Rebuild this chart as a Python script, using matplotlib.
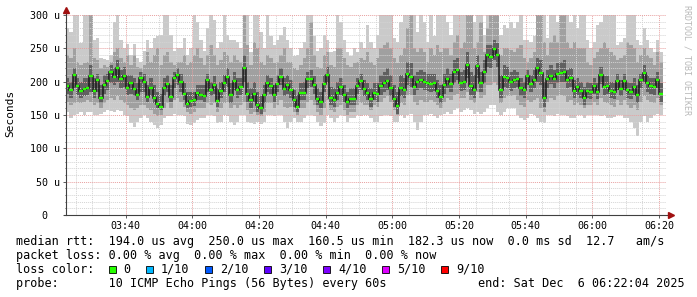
import datetime as dt
import numpy as np
import matplotlib
matplotlib.use("Agg")
import matplotlib.pyplot as plt
import matplotlib.dates as mdates
from matplotlib.ticker import MultipleLocator, FixedLocator, FixedFormatter
from matplotlib.patches import Rectangle

# ---- data (microseconds, one value per minute) ----
median = [
    193, 187.5, 210, 193, 186, 189.5, 190, 209, 186, 202, 175.5, 195, 201, 214.5, 207.5,
    220, 204.5, 208, 190, 197.5, 189.5, 180.5, 205, 200, 177.5, 190.5, 175.5, 166.5, 162.5, 190.5,
    197, 176.5, 205.5, 210.5, 200, 181.5, 166.5, 171.5, 172.5, 182.5, 180.5, 178, 202, 187, 195.5,
    171, 186.5, 197.5, 207.5, 179.5, 201, 188, 191.5, 220, 181.5, 172, 181, 164.5, 160, 179.5,
    197.5, 193.5, 180.5, 196.5, 207, 189, 194.5, 188, 172, 162.5, 182.5, 182.5, 203.5, 204, 194.5,
    173.5, 169, 196, 210.5, 175.5, 173, 182.5, 192, 180.5, 169, 174.5, 174.5, 193.5, 200.5, 188.5,
    183, 173.5, 183.5, 181, 193, 197.5, 201, 190, 173.5, 163.5, 190.5, 187, 211, 207.5, 191.5,
    200, 202, 200, 198.5, 197, 198, 186.5, 177.5, 195.5, 203.5, 196.5, 214, 217, 198.5, 199.5,
    225, 193, 187.5, 223, 197.5, 214, 240.5, 237.5, 249, 240, 187, 207.5, 205.5, 199, 202,
    204.5, 190.5, 187, 208.5, 196, 202.5, 220, 212.5, 175, 204, 209, 203.5, 212, 213, 214.5,
    202.5, 205, 186, 191.5, 185.5, 175, 186, 185, 193, 184.5, 210, 192.5, 193.5, 186, 185,
    201.5, 189.5, 201.5, 187, 185, 192.5, 179.5, 202.5, 212.5, 198.5, 194, 192, 202.5, 181.5,
]

# outer smoke (slowest / fastest ping)
smoke_hi1 = [
    280, 275, 300, 300, 258, 300, 300, 300, 262, 265, 236, 234, 232, 240, 290,
    300, 262, 250, 256, 240, 256, 236, 230, 246, 262, 250, 266, 268, 270, 300,
    300, 270, 246, 250, 250, 266, 240, 250, 300, 290, 262, 246, 280, 300, 292,
    250, 260, 300, 270, 262, 262, 260, 250, 300, 300, 245, 300, 300, 275, 250,
    300, 268, 255, 262, 270, 282, 262, 250, 238, 240, 250, 260, 300, 300, 268,
    246, 250, 270, 262, 245, 246, 300, 290, 262, 245, 238, 250, 245, 260, 250,
    285, 260, 250, 270, 300, 300, 300, 300, 265, 260, 290, 300, 300, 300, 300,
    275, 300, 290, 260, 300, 268, 300, 300, 300, 290, 270, 300, 300, 300, 300,
    300, 300, 290, 300, 300, 270, 300, 300, 300, 300, 270, 285, 280, 290, 280,
    290, 300, 262, 262, 260, 268, 300, 300, 300, 265, 300, 300, 290, 300, 300,
    300, 290, 300, 280, 300, 300, 262, 250, 260, 285, 290, 300, 300, 300, 300,
    255, 260, 265, 300, 300, 300, 262, 255, 280, 262, 250, 245, 262, 245,
]
smoke_lo1 = [
    155, 145, 150, 152, 155, 150, 155, 155, 150, 150, 152, 155, 157, 156, 155,
    158, 156, 150, 148, 138, 132, 140, 145, 150, 145, 140, 135, 130, 135, 145,
    148, 148, 152, 150, 150, 148, 137, 135, 138, 143, 145, 145, 150, 150, 148,
    138, 140, 150, 148, 140, 135, 140, 150, 150, 140, 138, 136, 140, 137, 140,
    150, 150, 148, 150, 150, 140, 130, 140, 145, 140, 140, 145, 150, 150, 148,
    140, 133, 138, 150, 145, 140, 145, 150, 148, 140, 145, 145, 150, 148, 150,
    150, 145, 140, 140, 148, 150, 150, 148, 140, 140, 150, 145, 150, 152, 140,
    128, 140, 150, 150, 152, 148, 145, 150, 152, 155, 152, 158, 160, 155, 158,
    160, 158, 152, 155, 152, 155, 160, 165, 165, 155, 150, 155, 160, 160, 160,
    150, 145, 142, 145, 152, 150, 145, 140, 138, 150, 150, 148, 152, 150, 150,
    148, 145, 145, 150, 150, 145, 150, 150, 150, 150, 148, 150, 145, 145, 147,
    150, 150, 145, 145, 140, 130, 118, 140, 148, 140, 145, 150, 152, 150,
]
# middle smoke
smoke_hi2 = [
    240, 235, 250, 230, 225, 228, 230, 300, 235, 232, 220, 225, 222, 230, 245,
    250, 235, 230, 240, 225, 240, 222, 220, 225, 245, 230, 240, 250, 225, 240,
    245, 230, 225, 230, 230, 240, 225, 230, 240, 250, 235, 225, 240, 255, 240,
    225, 232, 245, 240, 230, 240, 232, 230, 300, 255, 225, 260, 250, 230, 225,
    240, 235, 228, 230, 240, 250, 230, 230, 220, 218, 225, 235, 250, 290, 240,
    222, 220, 240, 245, 225, 222, 250, 250, 235, 225, 222, 228, 230, 235, 232,
    245, 230, 225, 235, 250, 255, 260, 250, 235, 228, 240, 250, 280, 300, 250,
    245, 250, 245, 230, 250, 240, 255, 245, 250, 250, 240, 260, 270, 250, 260,
    300, 300, 250, 260, 290, 245, 280, 300, 300, 300, 240, 250, 250, 248, 245,
    250, 255, 235, 230, 235, 245, 300, 300, 260, 240, 260, 270, 260, 300, 300,
    260, 250, 260, 250, 250, 250, 230, 225, 235, 245, 250, 260, 250, 245, 240,
    232, 235, 240, 260, 255, 250, 230, 240, 250, 240, 235, 225, 245, 230,
]
smoke_lo2 = [
    170, 165, 168, 170, 168, 170, 172, 170, 165, 168, 160, 168, 172, 175, 172,
    178, 172, 168, 165, 160, 158, 160, 165, 165, 160, 158, 152, 148, 150, 160,
    168, 160, 172, 175, 170, 162, 155, 152, 155, 160, 160, 160, 168, 165, 168,
    155, 160, 168, 170, 160, 165, 160, 165, 170, 158, 152, 155, 150, 148, 155,
    168, 168, 160, 165, 172, 162, 160, 162, 155, 150, 160, 160, 170, 172, 165,
    155, 150, 160, 172, 158, 155, 162, 165, 158, 150, 155, 155, 165, 168, 165,
    165, 158, 165, 162, 170, 175, 178, 170, 158, 150, 168, 165, 180, 180, 170,
    165, 172, 170, 170, 172, 170, 165, 160, 170, 175, 172, 180, 182, 175, 175,
    185, 172, 168, 185, 175, 180, 195, 195, 200, 195, 168, 175, 178, 178, 180,
    172, 165, 162, 172, 170, 172, 175, 160, 155, 170, 175, 172, 178, 180, 178,
    170, 172, 165, 168, 165, 160, 165, 165, 170, 165, 175, 170, 168, 165, 162,
    172, 165, 172, 165, 160, 165, 158, 170, 178, 172, 170, 168, 175, 165,
]
# inner smoke (around the median)
smoke_hi3 = [
    205, 200, 220, 205, 200, 205, 205, 225, 205, 212, 195, 210, 212, 225, 220,
    232, 218, 222, 210, 210, 205, 198, 215, 212, 195, 205, 195, 185, 182, 205,
    210, 195, 215, 220, 212, 198, 185, 185, 185, 195, 195, 195, 212, 200, 208,
    190, 200, 210, 220, 198, 215, 205, 205, 240, 200, 190, 200, 185, 178, 195,
    210, 205, 195, 210, 220, 205, 210, 202, 188, 180, 198, 200, 215, 218, 208,
    190, 185, 210, 222, 192, 190, 200, 205, 195, 185, 190, 190, 205, 212, 202,
    198, 190, 198, 198, 210, 215, 220, 210, 195, 185, 210, 205, 230, 228, 210,
    215, 218, 215, 212, 212, 212, 202, 195, 212, 220, 212, 232, 236, 215, 218,
    245, 215, 210, 240, 215, 232, 255, 255, 262, 258, 210, 225, 222, 215, 218,
    215, 205, 200, 218, 210, 218, 235, 232, 200, 218, 225, 218, 228, 230, 232,
    218, 220, 202, 205, 200, 192, 200, 198, 205, 198, 222, 208, 208, 200, 198,
    212, 202, 212, 200, 198, 205, 195, 212, 225, 210, 206, 205, 215, 198,
]
smoke_lo3 = [
    182, 176, 190, 180, 175, 178, 180, 185, 176, 185, 168, 182, 188, 198, 195,
    200, 190, 192, 180, 182, 178, 172, 185, 185, 170, 178, 168, 160, 158, 178,
    185, 170, 190, 195, 185, 172, 160, 162, 164, 172, 172, 170, 185, 178, 182,
    162, 175, 185, 192, 168, 188, 176, 180, 200, 170, 160, 170, 155, 152, 168,
    185, 182, 170, 185, 195, 178, 182, 176, 162, 155, 172, 172, 190, 192, 182,
    165, 160, 185, 198, 165, 162, 172, 180, 170, 160, 165, 165, 182, 188, 178,
    172, 162, 172, 170, 180, 185, 188, 178, 162, 152, 178, 175, 195, 192, 180,
    188, 190, 188, 186, 185, 186, 175, 168, 182, 190, 184, 198, 202, 186, 188,
    205, 180, 176, 205, 185, 198, 222, 220, 232, 222, 175, 192, 190, 186, 190,
    192, 178, 176, 195, 184, 190, 200, 195, 162, 190, 196, 190, 198, 200, 200,
    190, 192, 175, 180, 175, 165, 175, 174, 182, 174, 196, 180, 182, 175, 174,
    188, 178, 188, 175, 174, 180, 168, 190, 200, 185, 182, 180, 190, 170,
]

y_ticks = [0, 50, 100, 150, 200, 250, 300]
y_tick_labels = ["0  ", "50 u", "100 u", "150 u", "200 u", "250 u", "300 u"]

loss_labels = ["0", "1/10", "2/10", "3/10", "4/10", "5/10", "9/10"]
loss_colors = ["#26ff00", "#00b8ff", "#0059ff", "#5e00ff", "#7e00ff", "#dd00ff", "#ff0000"]

legend_rtt = "median rtt:  194.0 us avg  250.0 us max  160.5 us min  182.3 us now  0.0 ms sd  12.7   am/s"
legend_loss = "packet loss: 0.00 % avg  0.00 % max  0.00 % min  0.00 % now"
legend_probe = "probe:       10 ICMP Echo Pings (56 Bytes) every 60s"
end_txt = "end: Sat Dec  6 06:22:04 2025"

end_time = dt.datetime(2025, 12, 6, 6, 22, 4)
start_time = end_time - dt.timedelta(hours=3)

# ---- figure ----
W, H = 697, 297
plt.rcParams['font.family'] = ['DejaVu Sans Mono']
fig = plt.figure(figsize=(W / 100, H / 100), dpi=100)
fig.patch.set_facecolor("white")
ax = fig.add_axes([66 / W, (H - 215) / H, 600 / W, 200 / H])

t0 = mdates.date2num(start_time)
edges = t0 + np.arange(len(median) + 1) / 1440.0

ax.stairs(smoke_hi1, edges, baseline=smoke_lo1, fill=True, color="#cacaca", lw=0, zorder=1)
ax.stairs(smoke_hi2, edges, baseline=smoke_lo2, fill=True, color="#a0a0a0", lw=0, zorder=1.1)
ax.stairs(smoke_hi3, edges, baseline=smoke_lo3, fill=True, color="#606060", lw=0, zorder=1.2)

# median: dark step line with loss-coloured flats
ax.stairs(median, edges, baseline=None, color="#1a1a1a", lw=1.1, zorder=3)
ax.hlines(median, edges[:-1], edges[1:], color=loss_colors[0], lw=1.7, zorder=4)

ax.set_xlim(t0, mdates.date2num(end_time))
ax.set_ylim(0, 300)

ax.xaxis.set_major_locator(mdates.MinuteLocator(byminute=[0, 20, 40]))
ax.xaxis.set_major_formatter(mdates.DateFormatter("%H:%M"))
ax.xaxis.set_minor_locator(mdates.MinuteLocator(byminute=range(0, 60, 5)))
ax.yaxis.set_major_locator(FixedLocator(y_ticks))
ax.yaxis.set_major_formatter(FixedFormatter(y_tick_labels))
ax.yaxis.set_minor_locator(MultipleLocator(10))

ax.set_axisbelow(False)
ax.grid(which="minor", color="#d4d4d4", lw=0.7, ls=(0, (1, 1)))
ax.grid(which="major", color="#e8a0a0", lw=0.7, ls=(0, (1, 1)))

for s in ax.spines.values():
    s.set_visible(False)
ax.tick_params(which="both", length=2, width=0.6, color="#404040", labelsize=7.2, pad=2)
ax.tick_params(axis="x", which="minor", length=0)
ax.tick_params(axis="y", which="minor", length=1)

# axis lines with arrows
ax.plot([0, 0], [0, 1.025], transform=ax.transAxes, color="#404040", lw=0.8, clip_on=False, zorder=5)
ax.plot([-0.004, 1.008], [0, 0], transform=ax.transAxes, color="#404040", lw=0.8, clip_on=False, zorder=5)
ax.plot([0], [1.025], transform=ax.transAxes, marker="^", ms=4, color="#a01010", clip_on=False, zorder=6)
ax.plot([1.009], [0], transform=ax.transAxes, marker=">", ms=4, color="#a01010", clip_on=False, zorder=6)

fig.text(10 / W, 1 - 113 / H, "Seconds", rotation=90, ha="center", va="center", fontsize=8)
fig.text(687 / W, 1 - 5 / H, "RRDTOOL / TOBI OETIKER", rotation=270, ha="center", va="top",
         fontsize=6, color="#b8b8b8")

# legend block
fs = 8.5
fig.text(16 / W, 1 - 241.5 / H, legend_rtt, fontsize=fs, va="center")
fig.text(16 / W, 1 - 255.5 / H, legend_loss, fontsize=fs, va="center")
fig.text(16 / W, 1 - 269.5 / H, "loss color:", fontsize=fs, va="center")
x = 108.5
for lab, col in zip(loss_labels, loss_colors):
    fig.patches.append(Rectangle((x / W, 1 - 273 / H), 7 / W, 7 / H, transform=fig.transFigure,
                                 fc=col, ec="black", lw=0.6))
    fig.text((x + 15) / W, 1 - 269.5 / H, lab, fontsize=fs, va="center")
    x += 15 + len(lab) * 7.13 + 15.5
fig.text(16 / W, 1 - 283.5 / H, legend_probe, fontsize=fs, va="center")
fig.text(478 / W, 1 - 283.5 / H, end_txt, fontsize=fs, va="center")

fig.savefig("out.png", dpi=100)
